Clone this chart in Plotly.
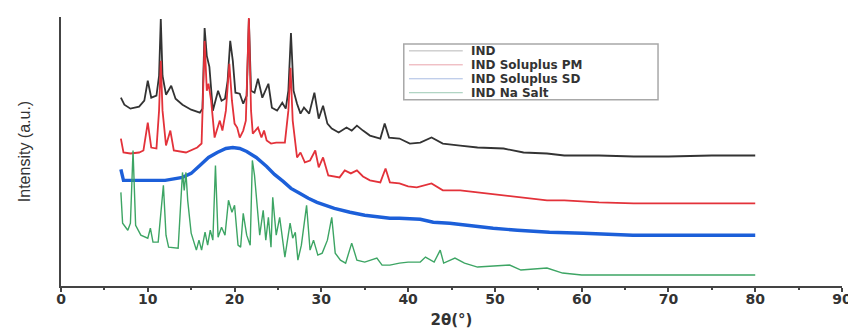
import plotly.graph_objects as go

# ---- data (2θ in degrees, intensity in arbitrary units, traces offset as in the figure) ----
ind_x = [6.9, 7.3, 8.0, 9.0, 9.6, 10.0, 10.4, 11.0, 11.3, 11.5, 11.7, 12.1, 12.7, 13.2, 14.0, 15.0,
         16.0, 16.3, 16.55, 16.8, 17.1, 17.5, 18.1, 18.5, 18.9, 19.2, 19.5, 19.8, 20.1, 20.6, 21.0,
         21.4, 21.65, 21.9, 22.3, 22.7, 23.2, 23.9, 24.3, 24.9, 25.5, 25.9, 26.2, 26.5, 26.8, 27.2,
         27.6, 28.0, 28.6, 29.2, 29.7, 30.2, 30.7, 31.2, 32.0, 32.9, 33.5, 34.1, 34.8, 35.6, 36.8,
         37.3, 37.8, 39.0, 40.2, 41.4, 42.7, 44.0, 46.0, 48.0, 51.0, 53.3, 56.0, 58.0, 62, 66, 70, 75, 80]
ind_y = [189, 182, 178, 180, 186, 206, 189, 191, 211, 268, 211, 192, 201, 188, 182, 177,
         174, 178, 259, 231, 220, 176, 196, 186, 188, 206, 246, 226, 194, 193, 183,
         191, 268, 196, 194, 208, 189, 203, 179, 176, 184, 178, 196, 254, 196, 183,
         173, 179, 173, 194, 168, 181, 163, 158, 154, 159, 156, 161, 156, 151, 148,
         163, 149, 148, 143, 144, 149, 143, 141, 139, 138, 134, 133, 131, 131, 130, 130, 131, 131]

pm_x = [6.9, 7.2, 8.0, 9.0, 9.5, 10.0, 10.4, 11.0, 11.3, 11.5, 11.7, 12.1, 12.6, 13.0, 14.4, 15.7,
        16.2, 16.55, 16.8, 17.0, 17.3, 17.7, 18.3, 18.6, 19.0, 19.4, 19.7, 20.0, 20.3, 20.6, 21.0,
        21.3, 21.65, 21.9, 22.1, 22.7, 23.1, 23.4, 23.7, 24.2, 24.8, 25.8, 26.2, 26.45, 26.7, 27.2,
        27.6, 28.1, 28.7, 29.3, 29.7, 30.2, 30.8, 32.1, 32.7, 33.4, 34.1, 34.8, 35.6, 36.8, 37.4,
        37.9, 39.0, 40.0, 41.0, 42.7, 44.0, 46.0, 48.0, 51.0, 53.3, 56.0, 58.0, 62, 66, 70, 75, 80]
pm_y = [148, 134, 133, 134, 136, 164, 139, 138, 176, 226, 176, 141, 156, 136, 134, 139,
        143, 246, 196, 203, 186, 149, 166, 156, 176, 223, 186, 163, 159, 149, 156,
        166, 269, 176, 153, 159, 149, 156, 146, 143, 144, 144, 176, 219, 166, 129,
        134, 124, 126, 136, 119, 129, 111, 109, 116, 113, 116, 110, 106, 104, 118,
        104, 103, 100, 99, 103, 96, 96, 94, 91, 88, 86, 86, 84, 83, 83, 83, 83]

sd_x = [6.9, 7.2, 8.0, 10.0, 12.0, 14.0, 15.0, 16.0, 17.0, 18.0, 19.0, 19.8, 20.6, 21.4, 22.5,
        23.7, 24.6, 25.6, 26.5, 27.5, 28.5, 29.5, 30.5, 31.5, 33.3, 35.0, 37.9, 39.0, 41.4, 42.9,
        44.8, 46.7, 48.3, 49.8, 52.6, 56.3, 60.2, 65.9, 70, 75, 80]
sd_y = [117, 106, 106, 106, 106, 109, 113, 121, 129, 134, 138, 139, 138, 135, 129,
        120, 112, 105, 98, 93, 88, 84, 81, 78, 74, 71, 68, 68, 67, 64,
        63, 61, 59, 58, 56, 54, 53, 51, 51, 51, 51]

na_x = [6.9, 7.1, 7.7, 8.0, 8.3, 8.6, 9.2, 10.0, 10.3, 10.6, 11.2, 11.5, 11.8, 12.1, 12.4, 13.5,
        13.8, 14.0, 14.2, 14.4, 14.6, 15.0, 15.6, 15.9, 16.2, 16.6, 16.9, 17.2, 17.5, 17.8, 18.1,
        18.5, 18.9, 19.3, 19.7, 20.0, 20.4, 20.7, 21.0, 21.4, 21.8, 22.05, 22.3, 22.6, 22.9, 23.3,
        23.6, 23.9, 24.2, 24.4, 24.8, 25.2, 25.8, 26.4, 26.7, 27.0, 27.3, 27.7, 28.3, 28.7, 29.1,
        29.6, 30.1, 30.7, 31.2, 31.6, 32.2, 32.8, 33.5, 34.1, 35.0, 36.4, 37.0, 37.9, 39.0, 40.0,
        41.4, 42.0, 43.0, 43.7, 44.1, 45.4, 46.5, 48.0, 50.0, 51.7, 53.0, 56.0, 57.8, 60.0, 65, 70, 75, 80]
na_y = [94, 63, 56, 63, 136, 61, 51, 48, 58, 44, 44, 73, 101, 51, 39, 38,
        86, 114, 96, 114, 86, 53, 36, 46, 36, 54, 41, 56, 46, 121, 49,
        59, 51, 86, 74, 81, 41, 39, 73, 51, 41, 126, 111, 79, 51, 76,
        46, 69, 39, 89, 51, 69, 29, 63, 48, 54, 26, 41, 81, 36, 46,
        31, 33, 46, 69, 33, 26, 23, 43, 26, 24, 28, 21, 21, 23, 24,
        24, 29, 24, 36, 23, 28, 23, 19, 20, 21, 16, 18, 13, 11, 11, 11, 11, 11]

series_names = ["IND", "IND Soluplus PM", "IND Soluplus SD", "IND Na Salt"]
x_ticks = [0, 10, 20, 30, 40, 50, 60, 70, 80, 90]

colors = ["#333333", "#e3323a", "#1c5fd9", "#3da564"]
widths = [1.8, 1.8, 3.4, 1.4]
legend_colors = ["#b8b8b8", "#e9a3ab", "#a9bde3", "#9cc9b4"]

fig = go.Figure()
for name, xs, ys, c, w in zip(series_names, [ind_x, pm_x, sd_x, na_x], [ind_y, pm_y, sd_y, na_y], colors, widths):
    fig.add_trace(go.Scatter(x=xs, y=ys, mode="lines", name=name,
                             line=dict(color=c, width=w), showlegend=False))

# manual legend box (positions in data units)
lx0, lx1, ly0, ly1 = 39.5, 68.8, 187, 243
fig.add_shape(type="rect", xref="x", yref="y", x0=lx0, x1=lx1, y0=ly0, y1=ly1,
              line=dict(color="#a8a8a8", width=1.5), fillcolor="rgba(255,255,255,0)")
for i, (name, lc) in enumerate(zip(series_names, legend_colors)):
    yy = 236 - 14 * i
    fig.add_shape(type="line", xref="x", yref="y", x0=40.1, x1=46.3, y0=yy, y1=yy,
                  line=dict(color=lc, width=1))
    fig.add_annotation(x=47.1, y=yy, xref="x", yref="y", text=name, showarrow=False,
                       xanchor="left", yanchor="middle", borderpad=0,
                       font=dict(family="DejaVu Sans", size=12, color="#333333", weight="bold"))

# the page body adds an 8px offset, so the figure is sized to the visible area
fig.update_layout(
    width=848, height=321,
    margin=dict(l=53, r=14, t=9, b=43, autoexpand=False),
    paper_bgcolor="white", plot_bgcolor="white",
    xaxis=dict(range=[0, 90], tickvals=x_ticks, ticks="outside", ticklen=4, tickwidth=1.5,
               tickcolor="#444444", showline=True, linecolor="#444444", linewidth=2,
               showgrid=False, zeroline=False, automargin=False, ticklabelstandoff=-5,
               minor=dict(dtick=5, tick0=0, ticks="outside", ticklen=2, tickwidth=1.5, tickcolor="#444444"),
               tickfont=dict(family="DejaVu Sans", size=14, color="#333333", weight="bold"),
               title=dict(text="2θ(°)", standoff=20,
                          font=dict(family="DejaVu Sans", size=15, color="#333333", weight="bold"))),
    yaxis=dict(range=[0, 270], showticklabels=False, ticks="", showline=True, linecolor="#444444",
               linewidth=2, showgrid=False, zeroline=False, automargin=False,
               title=dict(text="Intensity (a.u.)", standoff=24,
                          font=dict(family="Liberation Sans Narrow, Liberation Sans", size=16, color="#333333"))),
)

fig.write_html("out.html")
